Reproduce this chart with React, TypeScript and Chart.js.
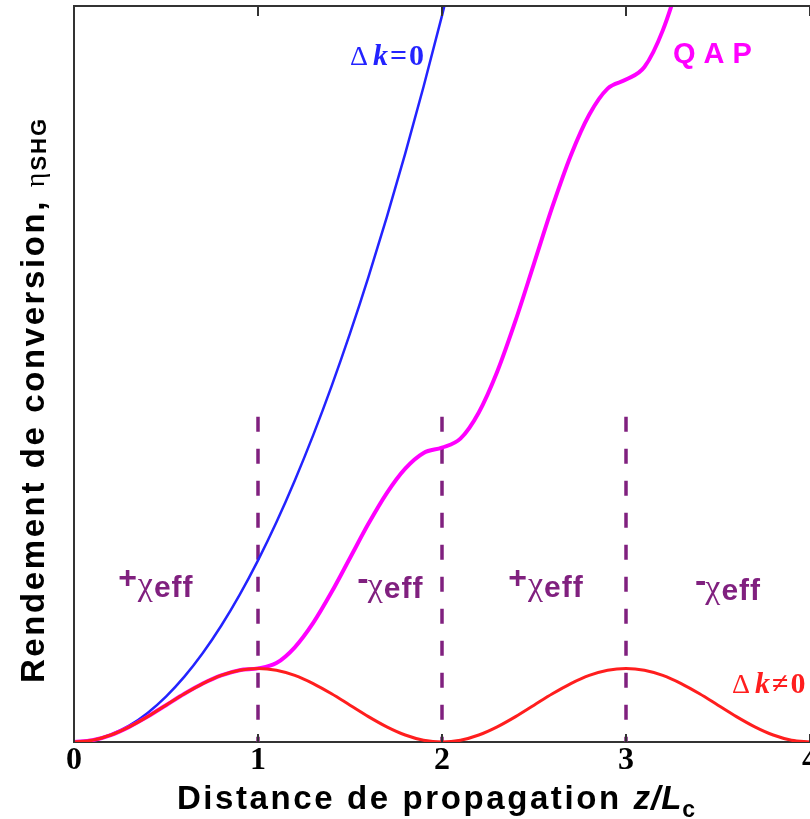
import React, { useEffect, useRef } from "react";
import { Chart, registerables } from "chart.js";

Chart.register(...registerables);

// Normalised propagation distance z/Lc
const zGrid = [
  0, 0.1, 0.2, 0.3, 0.4, 0.5, 0.6, 0.7, 0.8, 0.9,
  1.0, 1.1, 1.2, 1.3, 1.4, 1.5, 1.6, 1.7, 1.8, 1.9,
  2.0, 2.1, 2.2, 2.3, 2.4, 2.5, 2.6, 2.7, 2.8, 2.9,
  3.0, 3.1, 3.2, 3.3, 3.4, 3.5, 3.6, 3.7, 3.8, 3.9, 4.0,
];

// Δk ≠ 0 (red)
const mismatchValues = [
  0, 0.024, 0.095, 0.206, 0.345, 0.5, 0.655, 0.794, 0.905, 0.976,
  1.0, 0.976, 0.905, 0.794, 0.655, 0.5, 0.345, 0.206, 0.095, 0.024,
  0, 0.024, 0.095, 0.206, 0.345, 0.5, 0.655, 0.794, 0.905, 0.976,
  1.0, 0.976, 0.905, 0.794, 0.655, 0.5, 0.345, 0.206, 0.095, 0.024, 0,
];

// Δk = 0 (blue), runs off the top
const phaseMatchedValues = [
  0, 0.025, 0.099, 0.222, 0.395, 0.617, 0.888, 1.209, 1.579, 1.998,
  2.467, 2.985, 3.553, 4.169, 4.835, 5.551, 6.316, 7.13, 7.994, 8.906,
  9.87, 10.88,
];

// QAP (magenta), runs off the top
const qpmValues = [
  0, 0.024, 0.095, 0.206, 0.345, 0.5, 0.655, 0.794, 0.905, 0.976,
  1.0, 1.073, 1.287, 1.618, 2.037, 2.5, 2.964, 3.382, 3.714, 3.927,
  4.0, 4.122, 4.478, 5.031, 5.728, 6.5, 7.273, 7.97, 8.523, 8.878,
  9.0, 9.171, 9.669, 10.443, 11.42, 12.5,
];

const xTicks = [0, 1, 2, 3, 4];
const dividerPositions = [1, 2, 3];
const dividerTop = 4.42;

// Region labels: sign, z (left edge), value (baseline)
const regionSigns = ["+", "-", "+", "-"];
const regionZ = [0.24, 1.54, 2.36, 3.375];
const regionV = [1.97, 1.96, 1.97, 1.93];

const C_BLUE = "#2323ff";
const C_MAGENTA = "#ff00ff";
const C_RED = "#ff1e1e";
const C_PURPLE = "#80207f";
const C_AXIS = "#333333";

type Piece = { text: string; font: string; dy?: number; spacing?: number; gap?: number };

function piecesWidth(ctx: CanvasRenderingContext2D, pieces: Piece[]) {
  let w = 0;
  for (const p of pieces) {
    ctx.font = p.font;
    (ctx as any).letterSpacing = (p.spacing || 0) + "px";
    w += ctx.measureText(p.text).width + (p.gap || 0);
  }
  return w;
}

function drawPieces(ctx: CanvasRenderingContext2D, pieces: Piece[], x: number, y: number, color: string) {
  ctx.fillStyle = color;
  ctx.textAlign = "left";
  ctx.textBaseline = "alphabetic";
  let cx = x;
  for (const p of pieces) {
    ctx.font = p.font;
    (ctx as any).letterSpacing = (p.spacing || 0) + "px";
    ctx.fillText(p.text, cx, y + (p.dy || 0));
    cx += ctx.measureText(p.text).width + (p.gap || 0);
  }
  (ctx as any).letterSpacing = "0px";
}

const SANS = "'Liberation Sans', Arial, sans-serif";
const SERIF = "'Liberation Serif', 'Times New Roman', serif";

const decorPlugin = {
  id: "decor",
  afterDatasetsDraw(chart: any) {
    const { ctx, chartArea, scales } = chart;
    const xs = scales.x;
    ctx.save();
    // top frame
    ctx.strokeStyle = C_AXIS;
    ctx.lineWidth = 2;
    ctx.beginPath();
    ctx.moveTo(chartArea.left - 1, chartArea.top);
    ctx.lineTo(chartArea.right + 2, chartArea.top);
    ctx.stroke();
    // inner tick marks on top and bottom
    ctx.lineWidth = 2;
    for (const t of xTicks) {
      const px = xs.getPixelForValue(t);
      ctx.beginPath();
      ctx.moveTo(px, chartArea.top);
      ctx.lineTo(px, chartArea.top + 10);
      ctx.moveTo(px, chartArea.bottom);
      ctx.lineTo(px, chartArea.bottom - 8);
      ctx.stroke();
    }
    ctx.restore();
  },
  afterDraw(chart: any) {
    const { ctx, chartArea, scales } = chart;
    const xs = scales.x;
    const ys = scales.y;
    ctx.save();

    // X-axis title
    const xTitle: Piece[] = [
      { text: "Distance de propagation ", font: `bold 33px ${SANS}`, spacing: 2.6 },
      { text: "z/L", font: `italic bold 33px ${SANS}`, spacing: 1 },
      { text: "c", font: `bold 23px ${SANS}`, dy: 8 },
    ];
    const xw = piecesWidth(ctx, xTitle);
    drawPieces(ctx, xTitle, (chartArea.left + chartArea.right) / 2 - 6 - xw / 2, 809, "#000");

    // Y-axis title (rotated)
    const yTitle: Piece[] = [
      { text: "Rendement de conversion, ", font: `bold 33px ${SANS}`, spacing: 2.6 },
      { text: "η", font: `28px ${SERIF}`, gap: 2 },
      { text: "SHG", font: `bold 22px ${SANS}`, spacing: 2, dy: 2 },
    ];
    const yw = piecesWidth(ctx, yTitle);
    ctx.save();
    ctx.translate(44, (chartArea.top + chartArea.bottom) / 2 + 26);
    ctx.rotate(-Math.PI / 2);
    drawPieces(ctx, yTitle, -yw / 2, 0, "#000");
    ctx.restore();

    // Region labels ±χeff
    for (let i = 0; i < regionSigns.length; i++) {
      const px = xs.getPixelForValue(regionZ[i]);
      const py = ys.getPixelForValue(regionV[i]);
      const plus = regionSigns[i] === "+";
      const pieces: Piece[] = [
        { text: plus ? "+" : "-", font: `bold ${plus ? 32 : 34}px ${SANS}`, dy: plus ? -9 : -8, gap: plus ? 1 : -1 },
        { text: "χ", font: `34px ${SERIF}`, dy: -2, gap: 1 },
        { text: "eff", font: `bold 30px ${SANS}`, spacing: 1 },
      ];
      drawPieces(ctx, pieces, px, py, C_PURPLE);
    }

    // Curve labels
    const dk0: Piece[] = [
      { text: "Δ", font: `28px ${SERIF}`, gap: 5 },
      { text: "k", font: `italic bold 30px ${SERIF}`, gap: 2 },
      { text: "=0", font: `bold 30px ${SERIF}`, spacing: 2 },
    ];
    drawPieces(ctx, dk0, xs.getPixelForValue(1.5), ys.getPixelForValue(9.2), C_BLUE);

    const qap: Piece[] = [{ text: "QAP", font: `bold 29px ${SANS}`, spacing: 8 }];
    drawPieces(ctx, qap, xs.getPixelForValue(3.255), ys.getPixelForValue(9.23), C_MAGENTA);

    const dkn: Piece[] = [
      { text: "Δ", font: `28px ${SERIF}`, gap: 5 },
      { text: "k", font: `italic bold 30px ${SERIF}`, gap: 2 },
      { text: "≠0", font: `bold 30px ${SERIF}`, spacing: 2 },
    ];
    drawPieces(ctx, dkn, xs.getPixelForValue(3.576), ys.getPixelForValue(0.67), C_RED);

    ctx.restore();
  },
};

export default function App() {
  const canvasRef = useRef<HTMLCanvasElement | null>(null);

  useEffect(() => {
    const canvas = canvasRef.current;
    if (!canvas) return;

    const toPoints = (vals: number[]) => vals.map((v, i) => ({ x: zGrid[i], y: v }));

    const dividerSets = dividerPositions.map((p) => ({
      label: "divider " + p,
      data: [
        { x: p, y: dividerTop },
        { x: p, y: 0 },
      ],
      borderColor: C_PURPLE,
      borderWidth: 3.5,
      borderDash: [15, 17],
      pointRadius: 0,
      order: 3,
    }));

    const chart = new Chart(canvas, {
      type: "line",
      data: {
        datasets: [
          {
            label: "Δk≠0",
            data: toPoints(mismatchValues),
            borderColor: C_RED,
            borderWidth: 3,
            pointRadius: 0,
            cubicInterpolationMode: "monotone",
            order: 0,
          },
          {
            label: "QAP",
            data: toPoints(qpmValues),
            borderColor: C_MAGENTA,
            borderWidth: 4,
            pointRadius: 0,
            cubicInterpolationMode: "monotone",
            order: 1,
          },
          {
            label: "Δk=0",
            data: toPoints(phaseMatchedValues),
            borderColor: C_BLUE,
            borderWidth: 2.5,
            pointRadius: 0,
            cubicInterpolationMode: "monotone",
            order: 2,
          },
          ...dividerSets,
        ] as any,
      },
      options: {
        animation: false,
        responsive: false,
        maintainAspectRatio: false,
        layout: { padding: { top: 6, left: 0, right: 0, bottom: 0 } },
        plugins: {
          legend: { display: false },
          tooltip: { enabled: false },
        },
        scales: {
          x: {
            type: "linear",
            min: 0,
            max: 4,
            afterBuildTicks: (s: any) => {
              s.ticks = xTicks.map((v) => ({ value: v }));
            },
            ticks: {
              font: { family: "'Liberation Serif', 'Times New Roman', serif", weight: "bold", size: 32 },
              color: "#000",
              padding: 0,
              maxRotation: 0,
              autoSkip: false,
            },
            grid: { drawOnChartArea: false, drawTicks: false },
            border: { color: C_AXIS, width: 2 },
            afterFit: (s: any) => {
              s.height = 77;
              s.paddingLeft = 0;
              s.paddingRight = 0;
            },
          },
          y: {
            min: 0,
            max: 10,
            ticks: { display: false },
            grid: { drawOnChartArea: false, drawTicks: false },
            border: { color: C_AXIS, width: 2 },
            afterFit: (s: any) => {
              s.width = 74;
            },
          },
        },
      } as any,
      plugins: [decorPlugin],
    });

    return () => chart.destroy();
  }, []);

  return (
    <div style={{ position: "fixed", left: 0, top: 0, width: 810, height: 819, overflow: "hidden", background: "#fff" }}>
      <canvas ref={canvasRef} width={810} height={819} style={{ width: 810, height: 819, display: "block" }} />
    </div>
  );
}
